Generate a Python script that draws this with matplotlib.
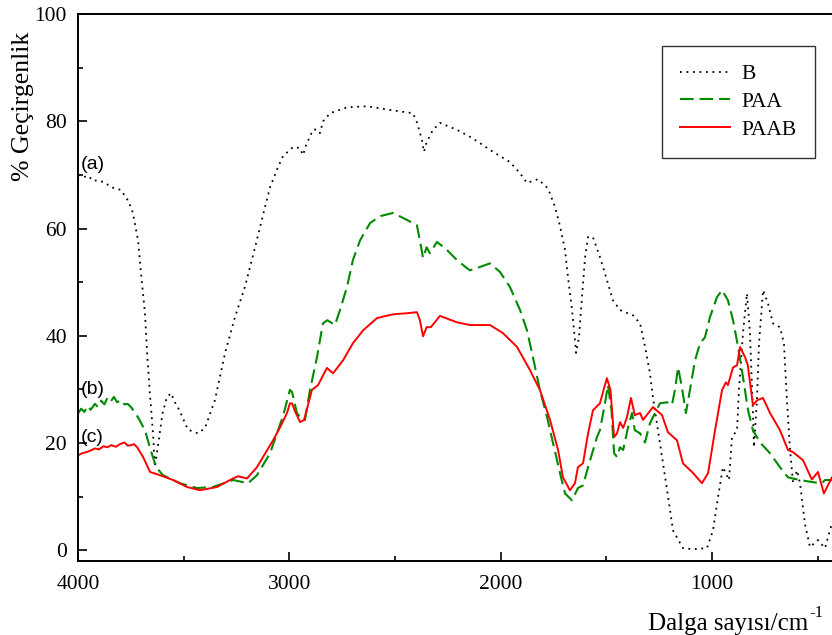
import matplotlib
matplotlib.use("Agg")
import matplotlib.pyplot as plt
from matplotlib.ticker import MultipleLocator

# ---------------- data (wavenumber cm-1, % transmittance) ----------------
b_wn = [4000, 3975, 3950, 3930, 3905, 3870, 3844, 3797, 3760, 3740, 3716, 3702, 3683, 3673,
        3660, 3645, 3636, 3620, 3600, 3580, 3560, 3540, 3520, 3480, 3432, 3399, 3352,
        3304, 3257, 3210, 3162, 3115, 3091, 3053, 3030, 2982, 2950, 2935, 2920, 2888,
        2870, 2855, 2840, 2807, 2727, 2632, 2523, 2415, 2395, 2372, 2363, 2350, 2320,
        2287, 2206, 2145, 2097, 2036, 1956, 1908, 1875, 1823, 1776, 1742, 1718, 1695,
        1681, 1662, 1648, 1643, 1629, 1615, 1600, 1586, 1563, 1530, 1497, 1468, 1435,
        1373, 1340, 1316, 1293, 1279, 1246, 1212, 1184, 1137, 1089, 1023, 995, 971,
        948, 934, 919, 905, 881, 872, 853, 834, 820, 806, 801, 787, 777, 758, 735,
        711, 678, 659, 645, 630, 616, 597, 583, 560, 536, 498, 465, 432, 400]
b_t = [70.0, 69.6, 69.8, 68.9, 69.0, 68.5, 67.7, 67.2, 65.0, 62.9, 57.8, 51.7, 44.2, 36.8,
       29.3, 21.8, 15.5, 20.0, 25.5, 28.5, 29.3, 27.5, 26.1, 22.5, 21.8, 22.8, 28.0,
       36.8, 43.5, 49.1, 56.5, 64.0, 67.7, 71.5, 73.5, 75.2, 75.0, 73.7, 75.6, 78.4,
       78.5, 77.8, 80.0, 81.5, 82.6, 82.8, 82.1, 81.5, 79.7, 76.5, 74.3, 76.1, 78.4,
       79.7, 78.4, 77.1, 75.9, 74.3, 72.4, 70.3, 68.5, 69.2, 67.5, 64.0, 60.3, 56.0,
       50.9, 44.8, 39.2, 36.8, 39.7, 47.2, 54.7, 58.4, 58.4, 54.7, 50.4, 46.6, 44.8,
       43.8, 42.3, 37.9, 33.0, 28.5, 20.0, 11.2, 3.7, 0.4, 0.2, 0.4, 3.7, 9.9,
       15.5, 14.4, 13.1, 21.1, 22.4, 29.9, 40.5, 47.9, 40.5, 26.1, 19.2, 28.0, 38.6, 48.5, 46.1,
       42.3, 41.6, 38.6, 28.0, 18.7, 12.5, 14.9, 12.5, 5.0, 0.6, 1.9, 0.4, 5.0, 8.0]

paa_wn = [4000, 3985, 3970, 3955, 3940, 3920, 3905, 3890, 3875, 3860, 3844, 3830, 3815,
          3797, 3780, 3765, 3749, 3716, 3683, 3660, 3636, 3626, 3598, 3517, 3437, 3361,
          3266, 3195, 3153, 3091, 3030, 2997, 2987, 2964, 2940, 2926, 2902, 2869, 2841,
          2820, 2784, 2760, 2727, 2699, 2665, 2618, 2571, 2509, 2443, 2396, 2382, 2367,
          2350, 2335, 2301, 2254, 2206, 2159, 2145, 2100, 2050, 2003, 1956, 1908, 1875,
          1847, 1814, 1780, 1752, 1719, 1695, 1662, 1634, 1610, 1586, 1544, 1530, 1506,
          1492, 1475, 1463, 1449, 1435, 1420, 1397, 1378, 1365, 1340, 1317, 1293, 1246,
          1212, 1189, 1175, 1160, 1142, 1123, 1104, 1080, 1056, 1033, 1009, 976, 952,
          924, 900, 876, 853, 829, 806, 772, 725, 678, 640, 583, 522, 479, 465, 432, 400]
paa_t = [25.5, 26.4, 25.8, 26.9, 26.2, 27.3, 26.7, 27.9, 27.2, 28.5, 27.8, 28.6, 27.6,
         28.0, 27.2, 27.3, 26.7, 24.8, 22.4, 19.2, 16.2, 15.3, 14.0, 12.5, 11.6, 11.8,
         13.1, 12.5, 14.0, 18.1, 25.0, 29.9, 29.5, 25.6, 24.3, 24.3, 29.9, 36.0, 42.3,
         42.9, 42.0, 44.8, 49.1, 54.1, 57.8, 61.0, 62.3, 62.9, 61.6, 60.6, 57.8, 54.5,
         56.5, 55.4, 57.5, 56.0, 54.1, 52.6, 52.2, 52.8, 53.5, 51.9, 49.1, 44.8, 41.0,
         36.0, 29.9, 24.8, 20.0, 14.4, 10.6, 9.3, 11.6, 12.1, 15.5, 21.1, 22.4, 27.4,
         30.8, 26.1, 18.1, 17.4, 19.2, 18.7, 22.9, 25.6, 22.4, 21.8, 20.1, 23.7, 27.4,
         27.6, 27.1, 29.9, 34.1, 30.4, 25.6, 29.9, 35.4, 38.6, 39.7, 43.5, 47.2, 48.5,
         46.6, 42.9, 37.9, 32.3, 26.1, 22.4, 20.1, 18.1, 15.5, 13.6, 13.1, 12.7, 12.5, 13.1, 13.1, 13.2]

paab_wn = [4000, 3980, 3960, 3940, 3920, 3900, 3880, 3860, 3844, 3820, 3801, 3780, 3765,
           3749, 3735, 3720, 3692, 3659, 3612, 3550, 3484, 3423, 3342, 3266, 3243, 3200,
           3153, 3077, 3044, 3011, 2997, 2987, 2975, 2949, 2930, 2893, 2864, 2822, 2793,
           2746, 2699, 2651, 2585, 2509, 2443, 2396, 2382, 2367, 2350, 2330, 2287, 2206,
           2145, 2097, 2050, 1989, 1922, 1861, 1814, 1766, 1728, 1705, 1672, 1648, 1634,
           1610, 1586, 1563, 1530, 1497, 1480, 1463, 1449, 1435, 1420, 1402, 1383, 1365,
           1340, 1326, 1279, 1236, 1208, 1165, 1137, 1089, 1047, 1018, 985, 952, 934,
           924, 900, 881, 867, 843, 830, 806, 785, 758, 725, 678, 640, 616, 569, 527,
           498, 470, 432, 400]
paab_t = [17.7, 18.1, 18.3, 18.6, 19.0, 18.8, 19.4, 19.2, 19.6, 19.3, 19.8, 20.1, 19.5,
          19.6, 19.8, 19.2, 17.4, 14.6, 14.0, 13.1, 11.8, 11.2, 11.8, 13.4, 13.8, 13.4,
          15.5, 20.5, 22.9, 25.6, 27.4, 27.4, 26.1, 23.9, 24.3, 29.9, 30.8, 34.0, 33.0,
          35.4, 38.6, 41.0, 43.3, 44.0, 44.2, 44.4, 42.9, 39.9, 41.6, 41.6, 43.7, 42.5,
          42.0, 42.0, 42.0, 40.5, 37.9, 33.6, 29.9, 24.3, 18.7, 13.6, 11.2, 12.5, 15.5,
          16.2, 21.8, 26.1, 27.4, 32.1, 29.9, 21.1, 21.8, 23.9, 22.8, 24.8, 28.4, 25.2,
          25.6, 24.3, 26.7, 25.2, 22.0, 20.5, 16.2, 14.4, 12.5, 14.4, 22.4, 29.9, 31.3,
          30.8, 34.1, 34.5, 37.9, 36.0, 34.5, 27.1, 28.0, 28.4, 25.6, 22.4, 18.7, 18.3, 16.8, 13.2,
          14.6, 10.6, 13.6, 14.5]

series_labels = ["B", "PAA", "PAAB"]
curve_tags = ["(a)", "(b)", "(c)"]
tag_pos_y = [72.0, 30.0, 21.1]
x_ticks = [4000, 3000, 2000, 1000]
y_ticks = [0, 20, 40, 60, 80, 100]

# ---------------- figure ----------------
serif = ["Liberation Serif", "DejaVu Serif"]
plt.rcParams["font.family"] = serif

W, H = 832, 635
fig = plt.figure(figsize=(W / 100, H / 100), dpi=100)
left_px, right_px, top_px, bot_px = 78, 845, 14, 561
ax = fig.add_axes([left_px / W, 1 - bot_px / H, (right_px - left_px) / W, (bot_px - top_px) / H])

px_per_unit = 211.3 / 1000.0
x_right = 4000 - (right_px - left_px) / px_per_unit
ax.set_xlim(4000, x_right)
ax.set_ylim(-2, 100)

ax.plot(b_wn, b_t, color="black", lw=1.3, linestyle=(0, (1, 2.6)), label=series_labels[0])
ax.plot(paa_wn, paa_t, color="#008a00", lw=1.5, linestyle=(0, (6.5, 2.9)), label=series_labels[1])
ax.plot(paab_wn, paab_t, color="#ff0000", lw=1.4, linestyle="-", label=series_labels[2])

for tag, ty in zip(curve_tags, tag_pos_y):
    ax.text(3988, ty, tag, family=["Liberation Sans", "DejaVu Sans"], fontsize=14,
            ha="left", va="center")

ax.set_xticks(x_ticks)
ax.set_yticks(y_ticks)
ax.xaxis.set_minor_locator(MultipleLocator(500))
ax.yaxis.set_minor_locator(MultipleLocator(10))
ax.tick_params(which="both", direction="in", width=1.2, labelsize=15.5)
ax.tick_params(which="major", length=6.5)
ax.tick_params(which="minor", length=3.6)
ax.tick_params(axis="y", pad=8)
ax.tick_params(axis="x", pad=10)

for s in ["left", "bottom", "top"]:
    ax.spines[s].set_linewidth(1.4)
ax.spines["right"].set_visible(False)

fig.text(23 / W, 1 - 106 / H, "% Geçirgenlik", rotation=90, ha="center", va="center",
         fontsize=18.5)
fig.text(808 / W, 1 - 630 / H, "Dalga sayısı/cm", ha="right", va="baseline",
         fontsize=18)
fig.text(809 / W, 1 - 617 / H, "-1", ha="left", va="baseline", fontsize=12)

leg = fig.legend(loc="upper right", bbox_to_anchor=(815 / W, 1 - 46 / H),
                 bbox_transform=fig.transFigure, borderaxespad=0, fontsize=15.5,
                 frameon=True, fancybox=False, handlelength=2.3, handletextpad=0.55,
                 borderpad=0.85, labelspacing=0.35)
leg.get_frame().set_edgecolor("black")
leg.get_frame().set_linewidth(1.0)

fig.savefig("out.png", dpi=100)
